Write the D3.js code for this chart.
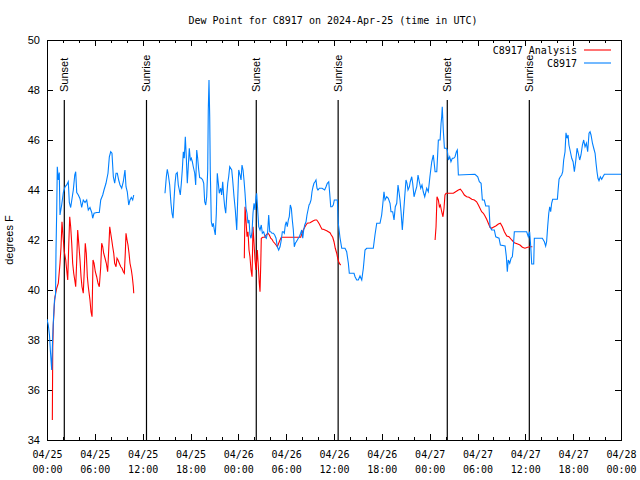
<!DOCTYPE html>
<html><head><meta charset="utf-8">
<script src="https://cdn.jsdelivr.net/npm/d3@7"></script>
<style>body{margin:0;background:#fff}svg{display:block}</style>
</head><body><svg id="c" width="640" height="480"></svg>
<script>
// ---------- data ----------
const chartTitle = "Dew Point for C8917 on 2024-Apr-25 (time in UTC)";
const yLabel = "degrees F";
const startUTC = Date.UTC(2024, 3, 25, 0, 0);
const spanHours = 72;
const yTicks = [34, 36, 38, 40, 42, 44, 46, 48, 50];
const majorTickHours = [0, 6, 12, 18, 24, 30, 36, 42, 48, 54, 60, 66, 72];
const minorTickHours = d3.range(0, 73, 2);
const sunEvents = [["Sunset", 2.17], ["Sunrise", 12.48], ["Sunset", 26.25], ["Sunrise", 36.52], ["Sunset", 50.21], ["Sunrise", 60.5]];
const seriesNames = ["C8917 Analysis", "C8917"];

// observed C8917 (hours since 04/25 00:00 UTC, degF)
const obsSeg1 = [[0,38.84],[0.16,38.6],[0.31,38.2],[0.44,37.5],[0.59,36.8],[0.69,37.9],[0.79,38.7],[0.94,39.6],[1.07,39.8],[1.13,41.6],[1.22,43.2],[1.29,44.93],[1.42,44.4],[1.54,44.7],[1.63,43.0],[1.84,43.4],[2.05,43.9],[2.26,44.13],[2.47,44.2],[2.67,44.33],[2.80,43.5],[2.97,43.3],[3.30,44.0],[3.48,44.6],[3.60,44.73],[3.73,43.9],[3.93,43.8],[4.14,43.65],[4.35,43.3],[4.55,43.6],[4.77,43.5],[4.98,43.6],[5.18,43.2],[5.39,43.3],[5.61,43.1],[5.73,42.87],[5.90,43.07],[6.23,43.1],[6.56,43.1],[6.74,43.6],[6.99,43.8],[7.15,44.0],[7.40,44.27],[7.65,44.67],[7.82,45.33],[7.99,45.53],[8.15,45.47],[8.32,44.53],[8.49,44.27],[8.66,44.67],[8.82,44.67],[8.99,44.4],[9.16,44.2],[9.37,44.07],[9.57,44.33],[9.78,44.8],[9.91,44.13],[10.07,43.93],[10.25,43.4],[10.41,43.6],[10.58,43.7],[10.75,43.6],[10.88,43.8]];
const obsSeg2 = [[14.80,43.87],[14.97,44.53],[15.09,44.83],[15.22,44.6],[15.39,44.2],[15.55,43.47],[15.68,43.07],[15.81,42.87],[15.93,43.6],[16.06,44.27],[16.18,44.64],[16.34,44.7],[16.47,44.2],[16.60,44.0],[16.72,43.8],[16.85,44.27],[16.97,44.8],[17.10,45.53],[17.22,45.27],[17.35,46.13],[17.47,45.33],[17.60,44.27],[17.72,44.93],[17.85,45.67],[17.98,45.2],[18.10,45.27],[18.23,45.13],[18.35,44.93],[18.53,44.67],[18.65,44.2],[18.78,45.6],[18.90,45.27],[19.03,44.8],[19.15,44.5],[19.36,44.47],[19.53,44.4],[19.66,44.27],[19.78,43.53],[19.91,43.4],[20.03,43.73],[20.16,44.8],[20.23,47.2],[20.32,48.4],[20.41,46.93],[20.48,44.8],[20.61,42.73],[20.74,42.53],[20.86,42.67],[20.99,42.4],[21.11,42.2],[21.24,43.07],[21.36,44.67],[21.49,44.27],[21.61,43.87],[21.79,44.07],[21.91,43.8],[22.04,44.33],[22.17,43.73],[22.29,43.33],[22.42,43.07],[22.54,43.73],[22.67,44.27],[22.79,44.53],[22.92,44.93],[23.17,44.8],[23.29,44.4],[23.46,43.73],[23.62,43.2],[23.80,42.4],[23.92,43.6],[24.05,44.8],[24.21,44.6],[24.34,44.4],[24.46,45.0],[24.59,44.8],[24.71,44.4],[24.84,43.87],[24.96,43.27],[25.09,43.07],[25.21,42.67],[25.34,42.8],[25.46,42.2],[25.59,42.07],[25.72,42.33],[25.84,43.07],[25.97,43.47],[26.09,43.2],[26.22,43.73],[26.30,43.87],[26.43,43.2],[26.56,42.53],[26.72,42.4],[26.88,42.6],[27.01,42.27],[27.18,42.33],[27.35,42.13],[27.51,42.07],[27.68,42.33],[27.81,43.0],[27.94,42.33],[28.06,42.33],[28.22,42.27],[28.39,42.27],[28.56,42.2],[28.73,42.07],[28.89,41.73],[29.06,41.6],[29.23,41.73],[29.39,42.0],[29.52,42.33],[29.64,42.33],[29.77,42.27],[29.89,42.6],[30.02,42.73],[30.14,42.53],[30.27,42.8],[30.39,42.93],[30.52,43.4],[30.65,43.27],[30.77,42.8],[30.90,42.4],[31.02,41.73],[31.15,41.87],[31.27,41.93],[31.40,42.0],[31.52,42.07],[31.65,42.13],[31.82,42.27],[31.95,42.4],[32.08,42.07],[32.20,42.4],[32.33,42.6],[32.49,42.73],[32.61,43.0],[32.74,43.2],[32.87,43.4],[32.99,43.47],[33.12,43.6],[33.24,43.93],[33.37,44.13],[33.49,44.27],[33.62,44.33],[33.74,44.4],[33.87,44.07],[33.99,44.0],[34.16,44.07],[34.50,44.07],[34.83,44.0],[35.00,44.13],[35.16,44.27],[35.34,44.33],[35.46,43.87],[35.59,43.33],[35.75,43.33],[35.91,43.4],[36.04,43.6],[36.42,43.6],[36.54,42.67],[36.75,42.1],[36.97,41.67],[37.38,41.67],[37.59,41.53],[37.80,41.07],[37.92,40.67],[38.51,40.67],[38.64,40.53],[38.85,40.4],[39.05,40.4],[39.26,40.56],[39.48,40.4],[39.68,40.87],[39.89,41.6],[40.10,41.67],[40.93,41.67],[41.14,42.2],[41.36,42.67],[41.77,42.67],[41.98,43.0],[42.11,43.4],[42.27,43.93],[42.40,43.6],[42.61,43.73],[42.81,43.67],[43.03,43.47],[43.15,43.13],[43.36,43.13],[43.53,42.8],[43.69,43.33],[43.87,43.47],[44.03,44.2],[44.15,43.93],[44.28,43.6],[44.41,43.13],[44.57,42.4],[44.69,42.93],[44.87,43.73],[45.03,44.4],[45.16,44.27],[45.28,44.0],[45.45,44.13],[45.57,44.33],[45.75,44.53],[45.87,44.27],[46.04,43.73],[46.20,43.93],[46.38,44.13],[46.54,44.6],[46.70,44.33],[46.88,44.07],[47.04,44.2],[47.20,43.93],[47.38,43.73],[47.63,44.07],[47.83,43.93],[48.03,44.53],[48.26,45.13],[48.46,45.4],[48.68,44.73],[48.89,44.73],[49.00,45.4],[49.09,46.0],[49.31,46.0],[49.43,46.67],[49.51,46.93],[49.58,47.33],[49.71,46.4],[49.85,45.67],[50.06,45.67],[50.21,45.6],[50.34,45.2],[50.51,45.33],[50.67,45.13],[50.84,45.27],[51.02,45.27],[51.18,45.33],[51.35,45.53],[51.47,45.6],[51.60,44.6],[53.68,44.63],[54.03,44.53],[54.23,44.33],[54.45,44.27],[54.61,43.6],[54.85,43.6],[55.03,43.36],[55.44,43.36],[55.57,42.53],[55.78,42.4],[56.11,42.4],[56.29,42.13],[56.70,42.07],[56.87,41.8],[57.46,41.76],[57.62,41.33],[57.74,40.73],[57.86,41.2],[58.04,41.07],[58.21,41.27],[58.37,41.33],[58.49,41.73],[58.62,42.33],[60.17,42.33],[60.37,42.13],[60.54,42.33],[60.68,41.73],[60.80,41.04],[61.05,41.04],[61.13,42.07],[62.13,42.07],[62.39,41.93],[62.55,41.76],[62.67,41.93],[62.80,42.53],[62.94,43.07],[63.06,43.33],[63.18,43.13],[63.30,43.47],[63.43,43.63],[64.02,43.63],[64.11,44.0],[64.23,44.43],[64.39,44.53],[64.56,44.6],[64.69,44.73],[64.81,45.2],[64.98,45.53],[65.10,46.29],[65.23,46.07],[65.36,46.2],[65.47,45.8],[65.65,45.53],[65.82,45.27],[65.99,45.13],[66.15,44.73],[66.31,45.13],[66.49,45.67],[66.64,45.47],[66.82,45.2],[66.98,45.4],[67.16,45.8],[67.32,46.0],[67.49,45.73],[67.66,45.87],[67.82,45.53],[67.99,46.27],[68.12,46.33],[68.24,46.2],[68.42,45.87],[68.58,45.67],[68.75,45.47],[68.87,45.07],[68.99,44.73],[69.11,44.47],[69.24,44.37],[69.41,44.53],[69.58,44.43],[69.74,44.53],[69.92,44.63],[72.0,44.63]];

// C8917 Analysis
const anaSeg1 = [[0.67,34.8],[0.72,37.7],[0.79,38.6],[0.92,39.4],[1.00,39.73],[1.22,40.07],[1.42,40.27],[1.63,41.07],[1.76,41.73],[1.88,42.73],[2.05,42.0],[2.17,41.53],[2.35,41.2],[2.47,40.8],[2.60,40.4],[2.72,41.73],[2.85,42.93],[2.97,42.53],[3.10,41.87],[3.22,41.07],[3.35,40.67],[3.48,40.4],[3.60,40.13],[3.73,41.2],[3.85,42.4],[3.98,41.87],[4.14,41.2],[4.27,40.53],[4.39,40.13],[4.55,39.87],[4.68,40.8],[4.80,41.87],[4.93,41.47],[5.06,40.53],[5.18,40.13],[5.39,39.6],[5.52,39.13],[5.65,38.93],[5.77,41.2],[5.90,41.07],[6.06,40.73],[6.23,40.53],[6.40,40.27],[6.56,40.13],[6.74,40.93],[6.86,41.87],[6.99,41.73],[7.11,41.47],[7.28,41.27],[7.44,41.07],[7.61,40.73],[7.74,41.6],[7.87,42.53],[7.99,42.27],[8.12,42.0],[8.24,41.73],[8.37,41.47],[8.49,41.07],[8.66,40.93],[8.78,41.27],[8.91,41.2],[9.07,41.07],[9.25,40.93],[9.41,40.87],[9.57,40.73],[9.70,40.67],[9.82,41.47],[9.91,42.27],[10.04,42.0],[10.16,41.8],[10.29,41.47],[10.41,41.07],[10.58,40.8],[10.70,40.53],[10.83,40.13],[10.88,39.87]];
const anaSeg2 = [[24.75,41.27],[24.84,43.33],[24.96,42.8],[25.09,42.13],[25.21,42.33],[25.34,41.6],[25.46,41.33],[25.59,40.8],[25.72,40.53],[25.84,42.53],[25.97,41.87],[26.09,41.2],[26.22,40.8],[26.38,41.6],[26.51,40.93],[26.63,40.27],[26.72,39.93],[26.81,41.0],[26.88,42.07],[27.06,42.11],[27.31,42.11],[27.47,42.2],[27.72,42.27],[27.89,42.2],[28.06,42.07],[28.22,42.03],[28.39,41.93],[28.56,41.87],[28.73,41.8],[28.89,41.73],[29.06,41.87],[29.23,42.0],[29.39,42.11],[31.82,42.11],[31.99,42.27],[32.15,42.4],[32.33,42.51],[32.49,42.6],[32.65,42.67],[32.99,42.69],[33.20,42.73],[33.41,42.77],[33.62,42.8],[33.83,42.8],[33.99,42.73],[34.16,42.64],[34.33,42.53],[34.50,42.43],[34.66,42.43],[34.87,42.4],[35.09,42.37],[35.29,42.33],[35.50,42.29],[35.66,42.2],[35.84,42.11],[36.00,41.93],[36.16,41.67],[36.34,41.47],[36.47,41.27],[36.59,41.13],[36.72,41.04],[36.84,41.0]];
const anaSeg3 = [[48.68,42.0],[48.80,42.53],[48.92,43.73],[49.09,43.6],[49.22,43.33],[49.34,43.4],[49.51,43.13],[49.67,42.93],[49.80,43.27],[49.92,43.8],[50.06,43.87],[50.97,43.87],[51.26,43.93],[51.60,44.0],[51.85,44.03],[52.10,43.93],[52.35,43.8],[52.64,43.73],[52.93,43.71],[53.28,43.63],[53.61,43.6],[53.89,43.53],[54.11,43.4],[54.31,43.27],[54.52,43.13],[54.74,43.07],[54.94,42.96],[55.15,42.83],[55.36,42.67],[55.57,42.51],[55.78,42.47],[55.98,42.51],[56.29,42.56],[56.62,42.64],[56.87,42.67],[57.12,42.53],[57.37,42.33],[57.67,42.16],[57.95,42.13],[58.29,42.0],[58.62,41.89],[59.04,41.84],[59.33,41.8],[59.63,41.71],[59.95,41.67],[60.29,41.71],[60.62,41.73],[60.88,41.73]];

// ---------- drawing ----------
const W = 640, H = 480;
const L = 47, R = 621, T = 40, B = 440;
const svg = d3.select("#c");
svg.append("rect").attr("width", W).attr("height", H).attr("fill", "#fff");

const hr = h => new Date(startUTC + h * 3600e3);
const x = d3.scaleUtc().domain([hr(0), hr(spanHours)]).range([L, R]);
const y = d3.scaleLinear().domain([34, 50]).range([B, T]);

const mono = "'DejaVu Sans Mono', monospace";
const sans = "'Liberation Sans', Arial, sans-serif";

// minor ticks
const fmtD = d3.utcFormat("%m/%d"), fmtT = d3.utcFormat("%H:%M");
svg.append("g").attr("transform", `translate(0,${B})`)
  .call(d3.axisBottom(x).tickValues(minorTickHours.map(hr)).tickSize(-3).tickFormat(""))
  .call(g => g.select(".domain").remove());
svg.append("g").attr("transform", `translate(0,${T})`)
  .call(d3.axisTop(x).tickValues(minorTickHours.map(hr)).tickSize(-3).tickFormat(""))
  .call(g => g.select(".domain").remove());
// major x ticks
const xb = svg.append("g").attr("transform", `translate(0,${B})`)
  .call(d3.axisBottom(x).tickValues(majorTickHours.map(hr)).tickSize(-6).tickPadding(10).tickFormat(""))
  .call(g => g.select(".domain").remove());
xb.selectAll(".tick").each(function(d) {
  const t = d3.select(this).select("text").attr("font-family", mono).attr("font-size", 10).attr("fill", "#000");
  t.append("tspan").attr("x", 0).attr("dy", "0.35em").text(fmtD(d));
  t.append("tspan").attr("x", 0).attr("dy", "15").text(fmtT(d));
});
xb.selectAll("text").attr("y", 14);
svg.append("g").attr("transform", `translate(0,${T})`)
  .call(d3.axisTop(x).tickValues(majorTickHours.map(hr)).tickSize(-6).tickFormat(""))
  .call(g => g.select(".domain").remove());
// y ticks
svg.append("g").attr("transform", `translate(${L},0)`)
  .call(d3.axisLeft(y).tickValues(yTicks).tickSize(-6).tickPadding(7).tickFormat(d3.format("d")))
  .call(g => g.select(".domain").remove())
  .call(g => g.selectAll("text").attr("font-family", sans).attr("font-size", 11).attr("fill", "#000"));
svg.append("g").attr("transform", `translate(${R},0)`)
  .call(d3.axisRight(y).tickValues(yTicks).tickSize(-6).tickFormat(""))
  .call(g => g.select(".domain").remove());
svg.selectAll(".tick line").attr("stroke", "#000").attr("shape-rendering", "crispEdges");

// border
svg.append("rect").attr("x", L).attr("y", T).attr("width", R - L).attr("height", B - T)
  .attr("fill", "none").attr("stroke", "#000").attr("shape-rendering", "crispEdges");

// sun events
sunEvents.forEach(([lab, h]) => {
  const px = x(hr(h));
  svg.append("line").attr("x1", px).attr("x2", px).attr("y1", 100).attr("y2", B)
    .attr("stroke", "#000").attr("stroke-width", 1.2);
  svg.append("text").attr("transform", `translate(${px + 4},92) rotate(-90)`)
    .attr("font-family", sans).attr("font-size", 11).text(lab);
});

// series
svg.append("clipPath").attr("id", "pc").append("rect")
  .attr("x", L).attr("y", T).attr("width", R - L).attr("height", B - T);
const line = d3.line().x(d => x(hr(d[0]))).y(d => y(d[1]));
const plot = svg.append("g").attr("clip-path", "url(#pc)");
[anaSeg1, anaSeg2, anaSeg3].forEach(s => plot.append("path").attr("d", line(s))
  .attr("fill", "none").attr("stroke", "#ff0000").attr("stroke-width", 1.1));
[obsSeg1, obsSeg2].forEach(s => plot.append("path").attr("d", line(s))
  .attr("fill", "none").attr("stroke", "#0080ff").attr("stroke-width", 1.1));

// legend
const legColors = ["#ff0000", "#0080ff"];
seriesNames.forEach((n, i) => {
  const ly = 50 + i * 13;
  svg.append("text").attr("x", 577).attr("y", ly).attr("dy", "0.35em").attr("text-anchor", "end")
    .attr("font-family", mono).attr("font-size", 10).text(n);
  svg.append("line").attr("x1", 584).attr("x2", 611).attr("y1", ly).attr("y2", ly)
    .attr("stroke", legColors[i]).attr("stroke-width", 1.1);
});

// title and y label
svg.append("text").attr("x", 333).attr("y", 20).attr("dy", "0.35em").attr("text-anchor", "middle")
  .attr("font-family", mono).attr("font-size", 10).text(chartTitle);
svg.append("text").attr("transform", "translate(13,240) rotate(-90)").attr("text-anchor", "middle")
  .attr("font-family", sans).attr("font-size", 11).text(yLabel);
</script></body></html>
